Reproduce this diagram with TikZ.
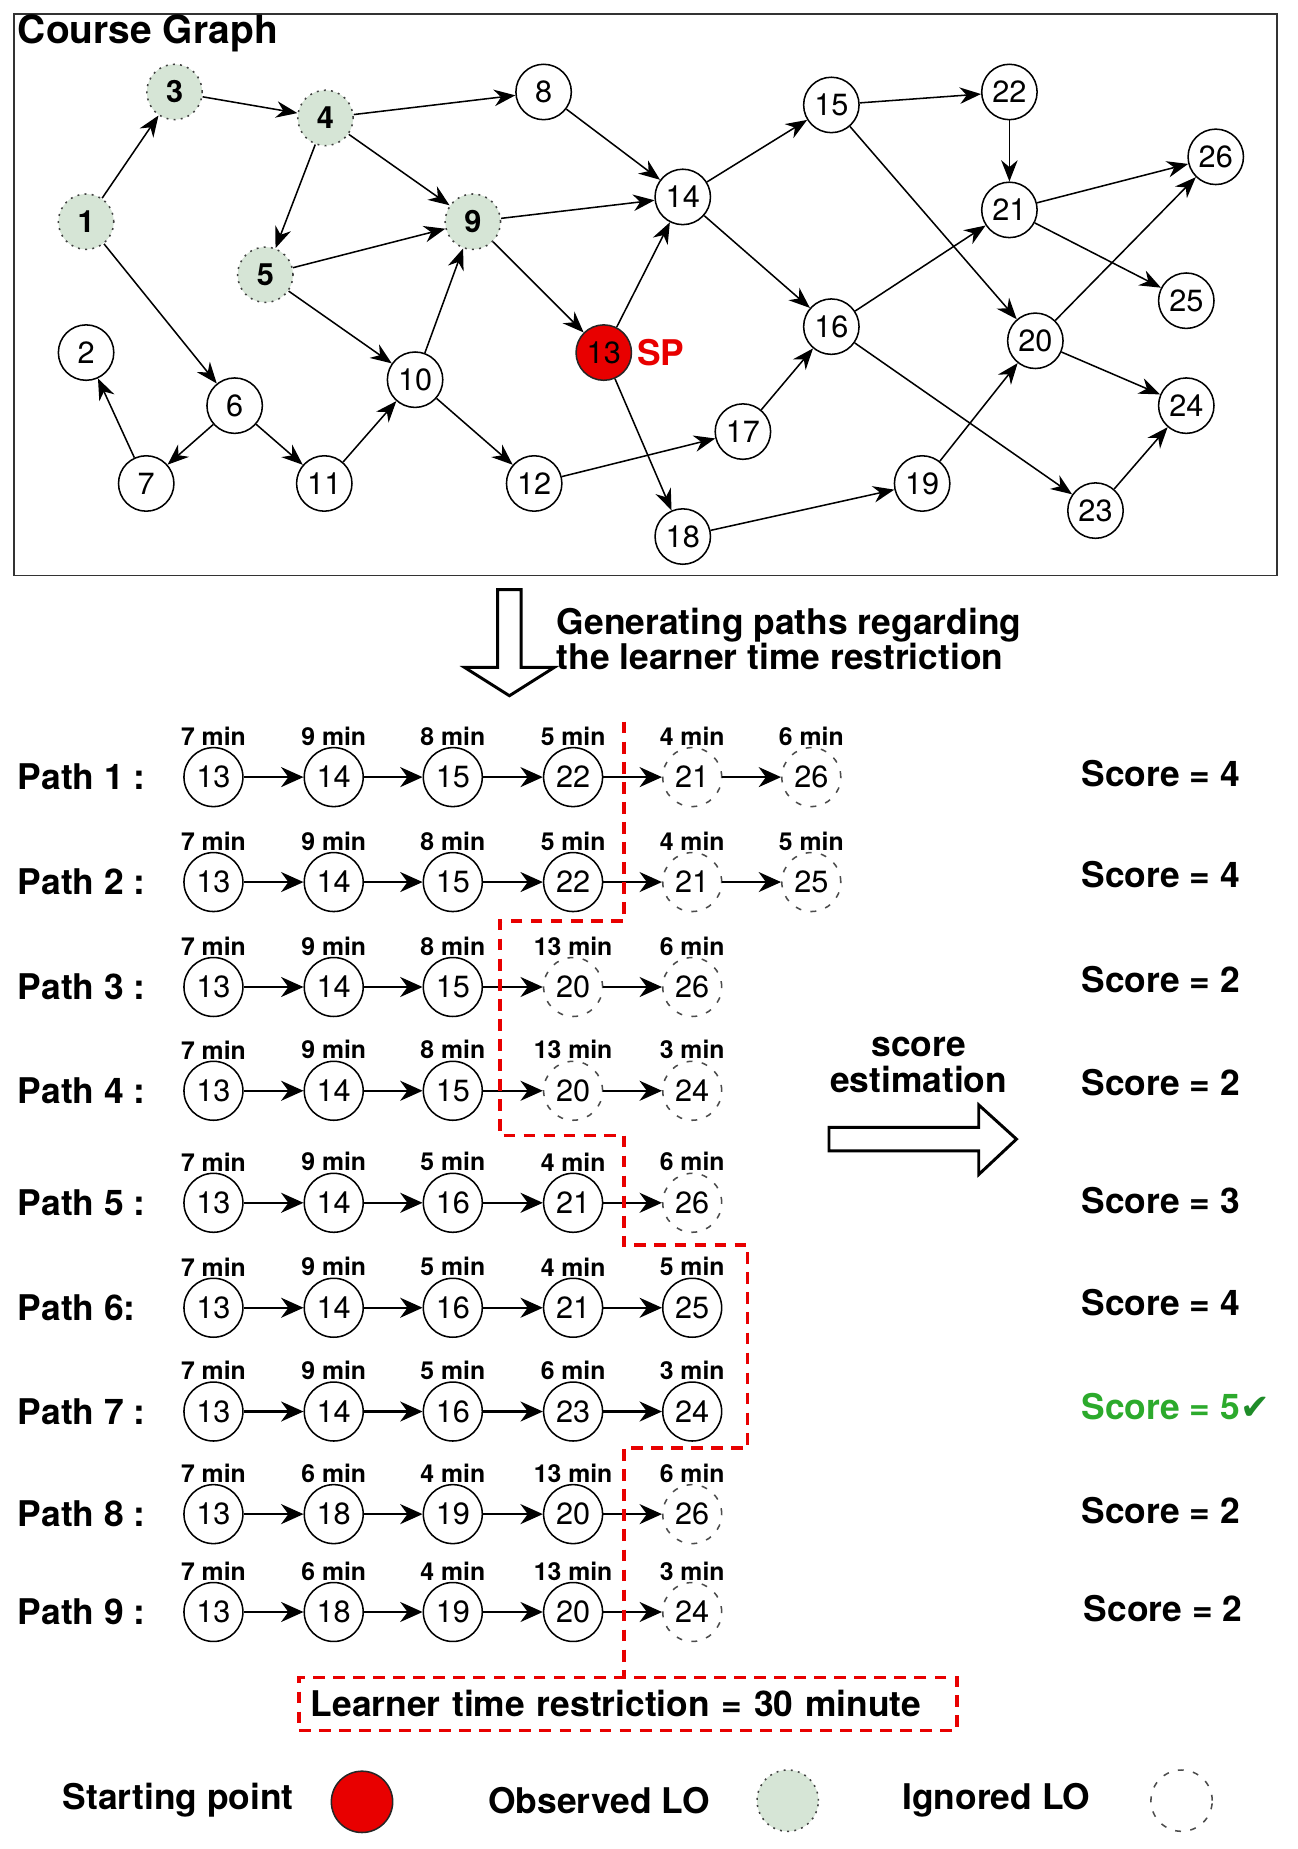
\documentclass[tikz,border=0pt]{standalone}
\usepackage{fontspec}
\setmainfont{TeX Gyre Heros}
\setsansfont{TeX Gyre Heros}
\newfontfamily\tickfont{DejaVu Sans}
\usetikzlibrary{arrows.meta, positioning}

\definecolor{lightgreen}{RGB}{214,229,214}
\definecolor{spred}{RGB}{232,0,0}
\definecolor{scoregreen}{RGB}{44,170,44}
\definecolor{tickgreen}{RGB}{30,140,40}

\newcommand{\numsize}{\fontsize{26}{28}\selectfont}
\newcommand{\txtsize}{\fontsize{30}{30}\selectfont}
\newcommand{\minsize}{\fontsize{21}{22}\selectfont}

\begin{document}
\begin{tikzpicture}[x=1pt, y=-1pt, font=\sffamily, line join=miter,
	lo/.style={draw, circle, minimum size=47pt, inner sep=0pt, line width=1.3pt, fill=white, font=\numsize},
	seen/.style={lo, draw=black!75, dash pattern=on 1.6pt off 4.5pt, fill=lightgreen, font=\numsize\bfseries},
	start/.style={lo, fill=spred, draw=black!85},
	pn/.style={lo, minimum size=50pt},
	skip/.style={pn, draw=black!70, dash pattern=on 5pt off 8pt},
	tm/.style={label={[font=\minsize\bfseries, inner sep=1pt]above:#1}},
	ga/.style={-{Stealth[length=18pt, width=14pt]}, line width=1.3pt},
	pa/.style={-{Stealth[length=19pt, width=17pt]}, line width=1.8pt},
	txt/.style={font=\txtsize\bfseries, inner sep=0pt},
	cut/.style={spred, line width=3pt, dash pattern=on 10pt off 7pt},
	hollow/.style={draw, line width=2.5pt, fill=white}]

	\useasboundingbox (0,0) rectangle (1100,1568);

	% Course graph
	\draw[line width=1.5pt, black!80] (12,12) rectangle (1083,488);
	\node[txt, font=\fontsize{33}{33}\selectfont\bfseries, anchor=west] (title) at (15,28) {Course Graph};

	\node[seen] (n1) at (73,188) {1};
	\node[lo] (n2) at (73,299) {2};
	\node[seen] (n3) at (148,78) {3};
	\node[seen] (n4) at (276,100) {4};
	\node[seen] (n5) at (225,233) {5};
	\node[lo] (n6) at (199,344) {6};
	\node[lo] (n7) at (124,410) {7};
	\node[lo] (n8) at (461,78) {8};
	\node[seen] (n9) at (401,188) {9};
	\node[lo] (n10) at (352,322) {10};
	\node[lo] (n11) at (275,410) {11};
	\node[lo] (n12) at (453,410) {12};
	\node[start] (n13) at (512,299) {13};
	\node[lo] (n14) at (579,167) {14};
	\node[lo] (n15) at (705,89) {15};
	\node[lo] (n16) at (705,277) {16};
	\node[lo] (n17) at (630,366) {17};
	\node[lo] (n18) at (579,455) {18};
	\node[lo] (n19) at (782,410) {19};
	\node[lo] (n20) at (878,289) {20};
	\node[lo] (n21) at (856,178) {21};
	\node[lo] (n22) at (856,78) {22};
	\node[lo] (n23) at (929,433) {23};
	\node[lo] (n24) at (1006,344) {24};
	\node[lo] (n25) at (1006,255) {25};
	\node[lo] (n26) at (1031,133) {26};
	\node[txt, text=spred, right=4pt of n13] (sp) {SP};

	\draw[ga] (n1) -- (n3);
	\draw[ga] (n1) -- (n6);
	\draw[ga] (n3) -- (n4);
	\draw[ga] (n4) -- (n8);
	\draw[ga] (n4) -- (n5);
	\draw[ga] (n4) -- (n9);
	\draw[ga] (n5) -- (n9);
	\draw[ga] (n5) -- (n10);
	\draw[ga] (n6) -- (n7);
	\draw[ga] (n6) -- (n11);
	\draw[ga] (n7) -- (n2);
	\draw[ga] (n11) -- (n10);
	\draw[ga] (n10) -- (n9);
	\draw[ga] (n10) -- (n12);
	\draw[ga] (n8) -- (n14);
	\draw[ga] (n9) -- (n14);
	\draw[ga] (n9) -- (n13);
	\draw[ga] (n13) -- (n14);
	\draw[ga] (n13) -- (n18);
	\draw[ga] (n12) -- (n17);
	\draw[ga] (n14) -- (n15);
	\draw[ga] (n14) -- (n16);
	\draw[ga] (n17) -- (n16);
	\draw[ga] (n18) -- (n19);
	\draw[ga] (n15) -- (n22);
	\draw[ga] (n15) -- (n20);
	\draw[ga] (n16) -- (n21);
	\draw[ga] (n16) -- (n23);
	\draw[ga] (n19) -- (n20);
	\draw[ga] (n22) -- (n21);
	\draw[ga] (n21) -- (n26);
	\draw[ga] (n21) -- (n25);
	\draw[ga] (n20) -- (n26);
	\draw[ga] (n20) -- (n24);
	\draw[ga] (n23) -- (n24);

	% Generating paths
	\draw[hollow] (422,500) -- (442,500) -- (442,566) -- (470,566) -- (432,590) -- (394,566) -- (422,566) -- cycle;
	\node[txt, anchor=west, align=left] (gen) at (472,542) {Generating paths regarding\\[0pt]the learner time restriction};

	% Path 1
	\node[txt, anchor=west] (l1) at (15,659) {Path 1 :};
	\node[pn, tm=7 min] (p1a) at (181,659) {13};
	\node[pn, tm=9 min] (p1b) at (283,659) {14};
	\node[pn, tm=8 min] (p1c) at (384,659) {15};
	\node[pn, tm=5 min] (p1d) at (486,659) {22};
	\node[skip, tm=4 min] (p1e) at (587,659) {21};
	\node[skip, tm=6 min] (p1f) at (688,659) {26};
	\draw[pa] (p1a) -- (p1b);
	\draw[pa] (p1b) -- (p1c);
	\draw[pa] (p1c) -- (p1d);
	\draw[pa] (p1d) -- (p1e);
	\draw[pa] (p1e) -- (p1f);
	\node[txt, anchor=west] (s1) at (917,656) {Score = 4};

	% Path 2
	\node[txt, anchor=west] (l2) at (15,748) {Path 2 :};
	\node[pn, tm=7 min] (p2a) at (181,748) {13};
	\node[pn, tm=9 min] (p2b) at (283,748) {14};
	\node[pn, tm=8 min] (p2c) at (384,748) {15};
	\node[pn, tm=5 min] (p2d) at (486,748) {22};
	\node[skip, tm=4 min] (p2e) at (587,748) {21};
	\node[skip, tm=5 min] (p2f) at (688,748) {25};
	\draw[pa] (p2a) -- (p2b);
	\draw[pa] (p2b) -- (p2c);
	\draw[pa] (p2c) -- (p2d);
	\draw[pa] (p2d) -- (p2e);
	\draw[pa] (p2e) -- (p2f);
	\node[txt, anchor=west] (s2) at (917,742) {Score = 4};

	% Path 3
	\node[txt, anchor=west] (l3) at (15,837) {Path 3 :};
	\node[pn, tm=7 min] (p3a) at (181,837) {13};
	\node[pn, tm=9 min] (p3b) at (283,837) {14};
	\node[pn, tm=8 min] (p3c) at (384,837) {15};
	\node[skip, tm=13 min] (p3d) at (486,837) {20};
	\node[skip, tm=6 min] (p3e) at (587,837) {26};
	\draw[pa] (p3a) -- (p3b);
	\draw[pa] (p3b) -- (p3c);
	\draw[pa] (p3c) -- (p3d);
	\draw[pa] (p3d) -- (p3e);
	\node[txt, anchor=west] (s3) at (917,831) {Score = 2};

	% Path 4
	\node[txt, anchor=west] (l4) at (15,925) {Path 4 :};
	\node[pn, tm=7 min] (p4a) at (181,925) {13};
	\node[pn, tm=9 min] (p4b) at (283,925) {14};
	\node[pn, tm=8 min] (p4c) at (384,925) {15};
	\node[skip, tm=13 min] (p4d) at (486,925) {20};
	\node[skip, tm=3 min] (p4e) at (587,925) {24};
	\draw[pa] (p4a) -- (p4b);
	\draw[pa] (p4b) -- (p4c);
	\draw[pa] (p4c) -- (p4d);
	\draw[pa] (p4d) -- (p4e);
	\node[txt, anchor=west] (s4) at (917,918) {Score = 2};

	% Path 5
	\node[txt, anchor=west] (l5) at (15,1020) {Path 5 :};
	\node[pn, tm=7 min] (p5a) at (181,1020) {13};
	\node[pn, tm=9 min] (p5b) at (283,1020) {14};
	\node[pn, tm=5 min] (p5c) at (384,1020) {16};
	\node[pn, tm=4 min] (p5d) at (486,1020) {21};
	\node[skip, tm=6 min] (p5e) at (587,1020) {26};
	\draw[pa] (p5a) -- (p5b);
	\draw[pa] (p5b) -- (p5c);
	\draw[pa] (p5c) -- (p5d);
	\draw[pa] (p5d) -- (p5e);
	\node[txt, anchor=west] (s5) at (917,1018) {Score = 3};

	% Path 6
	\node[txt, anchor=west] (l6) at (15,1109) {Path 6:};
	\node[pn, tm=7 min] (p6a) at (181,1109) {13};
	\node[pn, tm=9 min] (p6b) at (283,1109) {14};
	\node[pn, tm=5 min] (p6c) at (384,1109) {16};
	\node[pn, tm=4 min] (p6d) at (486,1109) {21};
	\node[pn, tm=5 min] (p6e) at (587,1109) {25};
	\draw[pa] (p6a) -- (p6b);
	\draw[pa] (p6b) -- (p6c);
	\draw[pa] (p6c) -- (p6d);
	\draw[pa] (p6d) -- (p6e);
	\node[txt, anchor=west] (s6) at (917,1105) {Score = 4};

	% Path 7
	\node[txt, anchor=west] (l7) at (15,1197) {Path 7 :};
	\node[pn, tm=7 min] (p7a) at (181,1197) {13};
	\node[pn, tm=9 min] (p7b) at (283,1197) {14};
	\node[pn, tm=5 min] (p7c) at (384,1197) {16};
	\node[pn, tm=6 min] (p7d) at (486,1197) {23};
	\node[pn, tm=3 min] (p7e) at (587,1197) {24};
	\draw[pa] (p7a) -- (p7b);
	\draw[pa] (p7b) -- (p7c);
	\draw[pa] (p7c) -- (p7d);
	\draw[pa] (p7d) -- (p7e);
	\node[txt, anchor=west, text=scoregreen] (s7) at (917,1193) {Score = 5{\tickfont\color{tickgreen}✔}};

	% Path 8
	\node[txt, anchor=west] (l8) at (15,1284) {Path 8 :};
	\node[pn, tm=7 min] (p8a) at (181,1284) {13};
	\node[pn, tm=6 min] (p8b) at (283,1284) {18};
	\node[pn, tm=4 min] (p8c) at (384,1284) {19};
	\node[pn, tm=13 min] (p8d) at (486,1284) {20};
	\node[skip, tm=6 min] (p8e) at (587,1284) {26};
	\draw[pa] (p8a) -- (p8b);
	\draw[pa] (p8b) -- (p8c);
	\draw[pa] (p8c) -- (p8d);
	\draw[pa] (p8d) -- (p8e);
	\node[txt, anchor=west] (s8) at (917,1281) {Score = 2};

	% Path 9
	\node[txt, anchor=west] (l9) at (15,1367) {Path 9 :};
	\node[pn, tm=7 min] (p9a) at (181,1367) {13};
	\node[pn, tm=6 min] (p9b) at (283,1367) {18};
	\node[pn, tm=4 min] (p9c) at (384,1367) {19};
	\node[pn, tm=13 min] (p9d) at (486,1367) {20};
	\node[skip, tm=3 min] (p9e) at (587,1367) {24};
	\draw[pa] (p9a) -- (p9b);
	\draw[pa] (p9b) -- (p9c);
	\draw[pa] (p9c) -- (p9d);
	\draw[pa] (p9d) -- (p9e);
	\node[txt, anchor=west] (s9) at (919,1364) {Score = 2};

	% Score estimation
	\node[txt, align=center] (est) at (779,903) {score\\[0pt]estimation};
	\draw[hollow] (703,956) -- (830,956) -- (830,937) -- (862,966) -- (830,996) -- (830,976) -- (703,976) -- cycle;

	% Time restriction
	\node[txt, draw=spred, cut, anchor=west, text=black, text width=538pt, inner xsep=10pt, minimum height=45pt, align=left] (limit) at (252,1445) {Learner time restriction = 30 minute};
	\coordinate (c0) at (529,612);
	\draw[cut] (c0) -- (529,781) -- (424,781) -- (424,963) -- (529,963) -- (529,1056) -- (634,1056) -- (634,1228) -- (529,1228) -- (c0 |- limit.north);

	% Legend
	\node[txt, anchor=west] (k1) at (53,1527) {Starting point};
	\node[start, minimum size=52pt] (k1c) at (307,1528) {};
	\node[txt, anchor=west] (k2) at (414,1527) {Observed LO};
	\node[seen, minimum size=52pt] (k2c) at (668,1527) {};
	\node[txt, anchor=west] (k3) at (765,1527) {Ignored LO};
	\node[skip, minimum size=52pt] (k3c) at (1002,1527) {};
\end{tikzpicture}
\end{document}
